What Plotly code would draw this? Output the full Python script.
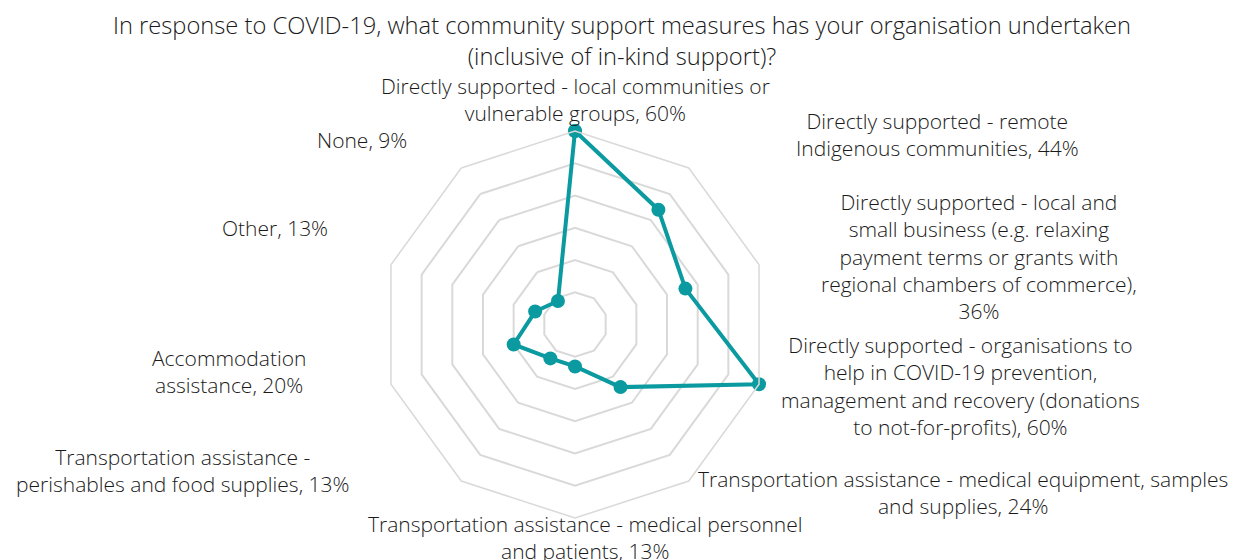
import plotly.graph_objects as go

# ---- data ----
categories = [
    "Directly supported - local communities or vulnerable groups",
    "Directly supported - remote Indigenous communities",
    "Directly supported - local and small business (e.g. relaxing payment terms or grants with regional chambers of commerce)",
    "Directly supported - organisations to help in COVID-19 prevention, management and recovery (donations to not-for-profits)",
    "Transportation assistance - medical equipment, samples and supplies",
    "Transportation assistance - medical personnel and patients",
    "Transportation assistance - perishables and food supplies",
    "Accommodation assistance",
    "Other",
    "None",
]
values = [60, 44, 36, 60, 24, 13, 13, 20, 13, 9]
label_lines = [
    ["Directly supported - local communities or", "vulnerable groups, 60%"],
    ["Directly supported - remote", "Indigenous communities, 44%"],
    ["Directly supported - local and", "small business (e.g. relaxing", "payment terms or grants with",
     "regional chambers of commerce),", "36%"],
    ["Directly supported - organisations to", "help in COVID-19 prevention,",
     "management and recovery (donations", "to not-for-profits), 60%"],
    ["Transportation assistance - medical equipment, samples", "and supplies, 24%"],
    ["Transportation assistance - medical personnel", "and patients, 13%"],
    ["Transportation assistance -", "perishables and food supplies, 13%"],
    ["Accommodation", "assistance, 20%"],
    ["Other, 13%"],
    ["None, 9%"],
]
title_lines = ["In response to COVID-19, what community support measures has your organisation undertaken",
               "(inclusive of in-kind support)?"]

# ---- layout / style ----
OFF = 8  # page body margin
W, H = 1245 - OFF, 560 - OFF
ML, MR, MT, MB = 140, 243, 123, 42
PW, PH = W - ML - MR, H - MT - MB
TEAL = "#0A9AA0"
GRID = "#d9d9d9"
FONT = "Open Sans, Liberation Sans, Arial, sans-serif"
TXT = "#1a1a1a"
LABEL_SIZE = 21
TITLE_SIZE = 23.7
# label block centres in page pixels
label_pos = [(575, 99.5), (937, 134), (979, 256.5), (960, 385.5), (963, 492),
             (585, 537.5), (183, 470), (229, 371), (275, 228), (362, 140)]
title_center_y = 34


def to_paper(px, py):
    return (px - OFF - ML) / PW, 1 - (py - OFF - MT) / PH


fig = go.Figure()
fig.add_trace(go.Scatterpolar(
    r=values + values[:1],
    theta=categories + categories[:1],
    mode="lines+markers",
    line=dict(color=TEAL, width=4),
    marker=dict(color=TEAL, size=14),
    showlegend=False,
    hoverinfo="skip",
))

annotations = []
for lines, (cx, cy) in zip(label_lines, label_pos):
    x, y = to_paper(cx, cy)
    annotations.append(dict(
        text="<br>".join(lines), x=x, y=y, xref="paper", yref="paper",
        xanchor="center", yanchor="middle", align="center", showarrow=False,
        font=dict(family=FONT, size=LABEL_SIZE, color=TXT, weight=300),
    ))

fig.update_layout(
    width=W, height=H,
    margin=dict(l=ML, r=MR, t=MT, b=MB),
    paper_bgcolor="white", plot_bgcolor="white",
    title=dict(text="<br>".join(title_lines), x=0.5 + (622 - OFF - W / 2) / W, xanchor="center",
               y=1 - (title_center_y - OFF) / H, yanchor="middle", yref="container",
               font=dict(family=FONT, size=TITLE_SIZE, color=TXT, weight=300)),
    polar=dict(
        bgcolor="white",
        gridshape="linear",
        radialaxis=dict(range=[0, 60], dtick=10, showticklabels=False, ticks="",
                        showline=False, gridcolor=GRID, gridwidth=1.5),
        angularaxis=dict(rotation=90, direction="clockwise", showticklabels=False,
                         ticks="", showgrid=False, showline=True, linecolor=GRID,
                         linewidth=1.5),
    ),
    annotations=annotations,
)

fig.write_html("out.html")
